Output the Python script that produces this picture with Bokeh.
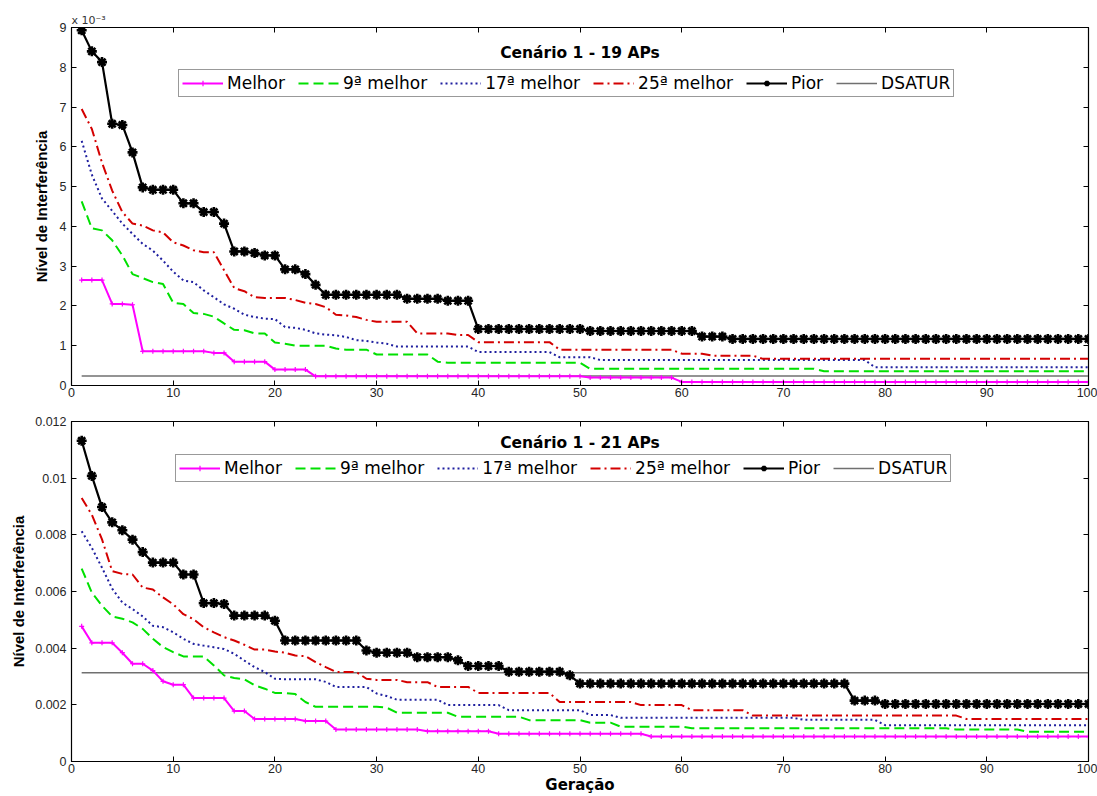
import numpy as np
from bokeh.plotting import figure
from bokeh.layouts import column
from bokeh.models import Range1d, FixedTicker, LinearAxis, Label, Legend, LegendItem, Title
from bokeh.embed import file_html
from bokeh.resources import INLINE

# ---------------- data ----------------
geracao = list(range(1, 101))
x_ticks = [0, 10, 20, 30, 40, 50, 60, 70, 80, 90, 100]
series_names = ["Melhor", "9ª melhor", "17ª melhor", "25ª melhor", "Pior", "DSATUR"]

# Cenário 1 - 19 APs  (values in units of 1e-3)
melhor_19 = [2.65, 2.65, 2.65, 2.05, 2.05, 2.03, 0.86, 0.86, 0.86, 0.86,
             0.86, 0.86, 0.86, 0.82, 0.82, 0.60, 0.60, 0.60, 0.60, 0.40,
             0.40, 0.40, 0.40, 0.23, 0.23, 0.23, 0.23, 0.23, 0.23, 0.23,
             0.23, 0.23, 0.23, 0.23, 0.23, 0.23, 0.23, 0.23, 0.23, 0.23,
             0.23, 0.23, 0.23, 0.23, 0.23, 0.23, 0.23, 0.23, 0.23, 0.23,
             0.20, 0.20, 0.20, 0.20, 0.20, 0.20, 0.20, 0.20, 0.20, 0.09,
             0.09, 0.09, 0.09, 0.09, 0.09, 0.09, 0.09, 0.09, 0.09, 0.09,
             0.09, 0.09, 0.09, 0.09, 0.09, 0.09, 0.09, 0.09, 0.09, 0.09,
             0.09, 0.09, 0.09, 0.09, 0.09, 0.09, 0.09, 0.09, 0.09, 0.09,
             0.09, 0.09, 0.09, 0.09, 0.09, 0.09, 0.09, 0.09, 0.09, 0.09]
melhor9_19 = [4.63, 3.95, 3.90, 3.65, 3.27, 2.80, 2.70, 2.60, 2.55, 2.08,
              2.05, 1.82, 1.80, 1.73, 1.56, 1.40, 1.39, 1.31, 1.31, 1.08,
              1.05, 1.00, 1.00, 1.00, 1.00, 0.93, 0.90, 0.90, 0.90, 0.78,
              0.78, 0.78, 0.78, 0.78, 0.78, 0.60, 0.57, 0.57, 0.57, 0.57,
              0.57, 0.57, 0.57, 0.57, 0.57, 0.57, 0.57, 0.57, 0.57, 0.57,
              0.42, 0.42, 0.42, 0.42, 0.42, 0.42, 0.42, 0.42, 0.42, 0.42,
              0.42, 0.42, 0.42, 0.42, 0.42, 0.42, 0.42, 0.42, 0.42, 0.42,
              0.42, 0.42, 0.42, 0.36, 0.36, 0.36, 0.36, 0.36, 0.36, 0.36,
              0.36, 0.36, 0.36, 0.36, 0.36, 0.36, 0.36, 0.36, 0.36, 0.36,
              0.36, 0.36, 0.36, 0.36, 0.36, 0.36, 0.36, 0.36, 0.36, 0.36]
melhor17_19 = [6.15, 5.30, 4.70, 4.39, 4.07, 3.81, 3.56, 3.39, 3.14, 2.86,
               2.64, 2.60, 2.39, 2.22, 2.04, 1.93, 1.78, 1.72, 1.68, 1.67,
               1.47, 1.45, 1.40, 1.31, 1.28, 1.26, 1.22, 1.14, 1.12, 1.08,
               1.05, 0.98, 0.98, 0.98, 0.98, 0.98, 0.98, 0.98, 0.98, 0.84,
               0.84, 0.84, 0.84, 0.84, 0.84, 0.84, 0.84, 0.71, 0.71, 0.71,
               0.71, 0.64, 0.64, 0.64, 0.64, 0.64, 0.64, 0.64, 0.64, 0.64,
               0.64, 0.64, 0.64, 0.64, 0.64, 0.64, 0.64, 0.64, 0.64, 0.64,
               0.64, 0.64, 0.64, 0.64, 0.64, 0.64, 0.64, 0.64, 0.46, 0.46,
               0.46, 0.46, 0.46, 0.46, 0.46, 0.46, 0.46, 0.46, 0.46, 0.46,
               0.46, 0.46, 0.46, 0.46, 0.46, 0.46, 0.46, 0.46, 0.46, 0.46]
melhor25_19 = [6.95, 6.45, 5.60, 4.90, 4.36, 4.07, 4.02, 3.90, 3.85, 3.60,
               3.52, 3.40, 3.35, 3.35, 2.90, 2.45, 2.37, 2.22, 2.20, 2.20,
               2.20, 2.15, 2.08, 2.05, 1.97, 1.78, 1.76, 1.72, 1.65, 1.60,
               1.60, 1.60, 1.60, 1.31, 1.31, 1.31, 1.31, 1.27, 1.27, 1.09,
               1.09, 1.09, 1.09, 1.09, 1.09, 1.09, 1.09, 0.90, 0.90, 0.90,
               0.90, 0.90, 0.90, 0.90, 0.90, 0.90, 0.90, 0.90, 0.90, 0.80,
               0.80, 0.80, 0.75, 0.75, 0.75, 0.75, 0.75, 0.67, 0.67, 0.67,
               0.67, 0.67, 0.67, 0.67, 0.67, 0.67, 0.67, 0.67, 0.67, 0.67,
               0.67, 0.67, 0.67, 0.67, 0.67, 0.67, 0.67, 0.67, 0.67, 0.67,
               0.67, 0.67, 0.67, 0.67, 0.67, 0.67, 0.67, 0.67, 0.67, 0.67]
pior_19 = [8.93, 8.40, 8.13, 6.58, 6.55, 5.86, 4.98, 4.92, 4.92, 4.92,
           4.58, 4.58, 4.36, 4.36, 4.07, 3.37, 3.37, 3.33, 3.27, 3.27,
           2.92, 2.92, 2.80, 2.53, 2.28, 2.28, 2.28, 2.28, 2.28, 2.28,
           2.28, 2.28, 2.18, 2.18, 2.18, 2.18, 2.13, 2.13, 2.13, 1.42,
           1.42, 1.42, 1.42, 1.42, 1.42, 1.42, 1.42, 1.42, 1.42, 1.42,
           1.37, 1.37, 1.37, 1.37, 1.37, 1.37, 1.37, 1.37, 1.37, 1.37,
           1.37, 1.23, 1.23, 1.23, 1.17, 1.17, 1.17, 1.17, 1.17, 1.17,
           1.17, 1.17, 1.17, 1.17, 1.17, 1.17, 1.17, 1.17, 1.17, 1.17,
           1.17, 1.17, 1.17, 1.17, 1.17, 1.17, 1.17, 1.17, 1.17, 1.17,
           1.17, 1.17, 1.17, 1.17, 1.17, 1.17, 1.17, 1.17, 1.17, 1.17]
dsatur_19 = 0.24
y_ticks_19 = [0, 1, 2, 3, 4, 5, 6, 7, 8, 9]

# Cenário 1 - 21 APs  (values in units of 1e-3, axis labelled in raw units)
melhor_21 = [4.77, 4.19, 4.19, 4.19, 3.84, 3.45, 3.45, 3.21, 2.83, 2.71,
             2.71, 2.24, 2.24, 2.24, 2.24, 1.78, 1.78, 1.50, 1.50, 1.50,
             1.50, 1.50, 1.43, 1.43, 1.43, 1.13, 1.13, 1.13, 1.13, 1.13,
             1.13, 1.13, 1.13, 1.13, 1.07, 1.07, 1.07, 1.07, 1.07, 1.07,
             1.07, 0.98, 0.98, 0.98, 0.98, 0.98, 0.98, 0.98, 0.98, 0.98,
             0.98, 0.98, 0.98, 0.98, 0.98, 0.98, 0.88, 0.88, 0.88, 0.88,
             0.88, 0.88, 0.88, 0.88, 0.88, 0.88, 0.88, 0.88, 0.88, 0.88,
             0.88, 0.88, 0.88, 0.88, 0.88, 0.88, 0.88, 0.88, 0.88, 0.88,
             0.88, 0.88, 0.88, 0.88, 0.88, 0.88, 0.88, 0.88, 0.88, 0.88,
             0.88, 0.88, 0.88, 0.88, 0.88, 0.88, 0.88, 0.88, 0.88, 0.88]
melhor9_21 = [6.81, 5.96, 5.50, 5.12, 5.04, 4.91, 4.68, 4.33, 4.04, 3.86,
              3.71, 3.71, 3.71, 3.39, 3.04, 2.95, 2.90, 2.69, 2.57, 2.42,
              2.42, 2.38, 2.10, 1.93, 1.93, 1.93, 1.93, 1.93, 1.93, 1.93,
              1.90, 1.72, 1.72, 1.72, 1.72, 1.72, 1.72, 1.58, 1.58, 1.58,
              1.58, 1.58, 1.58, 1.58, 1.46, 1.46, 1.46, 1.46, 1.46, 1.46,
              1.37, 1.37, 1.37, 1.23, 1.23, 1.23, 1.23, 1.23, 1.23, 1.23,
              1.17, 1.17, 1.17, 1.17, 1.17, 1.17, 1.17, 1.17, 1.17, 1.17,
              1.17, 1.17, 1.17, 1.17, 1.17, 1.17, 1.17, 1.17, 1.17, 1.17,
              1.17, 1.17, 1.17, 1.17, 1.17, 1.17, 1.13, 1.13, 1.13, 1.13,
              1.13, 1.13, 1.13, 1.05, 1.05, 1.05, 1.05, 1.05, 1.05, 1.05]
melhor17_21 = [8.13, 7.54, 6.84, 6.10, 5.61, 5.38, 5.12, 4.79, 4.74, 4.56,
               4.33, 4.15, 4.09, 4.03, 3.97, 3.80, 3.56, 3.33, 3.16, 2.92,
               2.90, 2.90, 2.90, 2.90, 2.81, 2.63, 2.63, 2.63, 2.63, 2.40,
               2.31, 2.18, 2.18, 2.18, 2.18, 2.18, 1.99, 1.99, 1.99, 1.99,
               1.99, 1.99, 1.81, 1.81, 1.81, 1.81, 1.81, 1.81, 1.81, 1.81,
               1.64, 1.64, 1.64, 1.54, 1.54, 1.54, 1.54, 1.54, 1.54, 1.54,
               1.54, 1.54, 1.54, 1.54, 1.54, 1.54, 1.54, 1.54, 1.54, 1.54,
               1.54, 1.47, 1.47, 1.47, 1.47, 1.47, 1.47, 1.47, 1.47, 1.28,
               1.28, 1.28, 1.28, 1.28, 1.28, 1.28, 1.28, 1.28, 1.28, 1.28,
               1.28, 1.28, 1.28, 1.28, 1.28, 1.28, 1.28, 1.28, 1.28, 1.28]
melhor25_21 = [9.30, 8.71, 7.84, 6.72, 6.62, 6.60, 6.14, 6.07, 5.79, 5.55,
               5.20, 5.02, 4.74, 4.56, 4.39, 4.27, 4.12, 3.95, 3.95, 3.88,
               3.84, 3.74, 3.72, 3.51, 3.33, 3.16, 3.16, 3.16, 2.92, 2.88,
               2.88, 2.88, 2.80, 2.80, 2.80, 2.63, 2.63, 2.63, 2.63, 2.42,
               2.42, 2.42, 2.42, 2.42, 2.42, 2.42, 2.42, 2.10, 2.10, 2.10,
               2.10, 2.10, 2.10, 2.10, 2.10, 1.99, 1.99, 1.99, 1.99, 1.99,
               1.81, 1.81, 1.81, 1.81, 1.81, 1.81, 1.62, 1.62, 1.62, 1.62,
               1.62, 1.62, 1.62, 1.62, 1.62, 1.62, 1.62, 1.62, 1.62, 1.62,
               1.62, 1.62, 1.62, 1.62, 1.62, 1.62, 1.62, 1.50, 1.50, 1.50,
               1.50, 1.50, 1.50, 1.50, 1.50, 1.50, 1.50, 1.50, 1.50, 1.50]
pior_21 = [11.32, 10.08, 8.98, 8.44, 8.16, 7.83, 7.39, 7.02, 7.02, 7.02,
           6.60, 6.60, 5.59, 5.59, 5.56, 5.15, 5.15, 5.15, 5.15, 4.97,
           4.27, 4.27, 4.27, 4.27, 4.27, 4.27, 4.27, 4.27, 3.92, 3.84,
           3.84, 3.84, 3.84, 3.68, 3.68, 3.68, 3.68, 3.57, 3.37, 3.37,
           3.37, 3.37, 3.17, 3.17, 3.17, 3.17, 3.17, 3.17, 3.04, 2.75,
           2.75, 2.75, 2.75, 2.75, 2.75, 2.75, 2.75, 2.75, 2.75, 2.75,
           2.75, 2.75, 2.75, 2.75, 2.75, 2.75, 2.75, 2.75, 2.75, 2.75,
           2.75, 2.75, 2.75, 2.75, 2.75, 2.75, 2.15, 2.15, 2.15, 2.03,
           2.03, 2.03, 2.03, 2.03, 2.03, 2.03, 2.03, 2.03, 2.03, 2.03,
           2.03, 2.03, 2.03, 2.03, 2.03, 2.03, 2.03, 2.03, 2.03, 2.03]
dsatur_21 = 3.13
y_ticks_21 = [0, 2, 4, 6, 8, 10, 12]
y_tick_labels_21 = ["0", "0.002", "0.004", "0.006", "0.008", "0.01", "0.012"]

# ---------------- styling ----------------
TICK_FONT = "Liberation Sans"
WIDE_FONT = "DejaVu Sans"
C_MAG = "#FF00FF"
C_GRN = "#00E000"
C_BLU = "#1F1F9F"
C_RED = "#D40000"
C_BLK = "#000000"
C_GRY = "#707070"


def style_axis(ax, ticks, overrides=None):
    ax.ticker = FixedTicker(ticks=ticks)
    ax.major_tick_in = 5
    ax.major_tick_out = 0
    ax.minor_tick_line_color = None
    ax.axis_line_color = "black"
    ax.axis_line_width = 1
    ax.major_tick_line_color = "black"
    ax.major_label_text_font = TICK_FONT
    ax.major_label_text_font_size = "12.5px"
    ax.major_label_text_color = "#262626"
    if overrides:
        ax.major_label_overrides = overrides


def make_panel(height, border, ymax, yticks, yoverrides, ylabel_standoff,
               data, dsatur, title, title_y, legend_loc, xlabel=None, sci=False):
    p = figure(width=1097, height=height, output_backend="svg", toolbar_location=None,
               x_range=Range1d(0, 100), y_range=Range1d(0, ymax),
               min_border_left=border[0], min_border_right=border[1],
               min_border_top=border[2], min_border_bottom=border[3])
    p.xgrid.visible = False
    p.ygrid.visible = False
    p.outline_line_color = "black"
    p.outline_line_width = 1.2
    p.background_fill_color = "white"
    p.border_fill_color = "white"

    xa = p.below[0]
    ya = p.left[0]
    style_axis(xa, x_ticks)
    xa.major_label_standoff = 2
    style_axis(ya, yticks, yoverrides)
    ya.major_label_standoff = 5
    ya.axis_label = "Nível de Interferência"
    ya.axis_label_text_font = TICK_FONT
    ya.axis_label_text_font_style = "bold"
    ya.axis_label_text_font_size = "15px"
    ya.axis_label_text_color = "black"
    ya.axis_label_standoff = ylabel_standoff
    if xlabel:
        xa.axis_label = xlabel
        xa.axis_label_text_font = WIDE_FONT
        xa.axis_label_text_font_style = "bold"
        xa.axis_label_text_font_size = "15px"
        xa.axis_label_text_color = "black"
        xa.axis_label_standoff = 0

    # box ticks on top and right
    top_ax = LinearAxis()
    style_axis(top_ax, x_ticks, {t: "" for t in x_ticks})
    top_ax.major_label_text_font_size = "0px"
    top_ax.major_label_standoff = 0
    p.add_layout(top_ax, "above")
    right_ax = LinearAxis()
    style_axis(right_ax, yticks, {t: "" for t in yticks})
    right_ax.major_label_text_font_size = "0px"
    right_ax.major_label_standoff = 0
    p.add_layout(right_ax, "right")

    if sci:
        p.add_layout(Title(text="x 10⁻³", align="left", text_font=WIDE_FONT,
                           text_font_size="11px", text_font_style="normal",
                           text_color="#333333", standoff=2, offset=0), "above")

    melhor, m9, m17, m25, pior = data
    r_ds = p.line([geracao[0], geracao[-1]], [dsatur, dsatur], line_color=C_GRY, line_width=1.6)
    r_m = p.line(geracao, melhor, line_color=C_MAG, line_width=2)
    r_ms = p.scatter(geracao, melhor, marker="cross", size=5, line_color=C_MAG, line_width=1.2)
    r_9 = p.line(geracao, m9, line_color=C_GRN, line_width=2, line_dash="10 5")
    r_17 = p.line(geracao, m17, line_color=C_BLU, line_width=2, line_dash="2 3")
    r_25 = p.line(geracao, m25, line_color=C_RED, line_width=2, line_dash="10 4 2 4")
    r_p = p.line(geracao, pior, line_color=C_BLK, line_width=2.2)
    r_ps = p.scatter(geracao, pior, marker="asterisk", size=10, line_color=C_BLK, line_width=2.6)

    items = [LegendItem(label=series_names[0], renderers=[r_m, r_ms]),
             LegendItem(label=series_names[1], renderers=[r_9]),
             LegendItem(label=series_names[2], renderers=[r_17]),
             LegendItem(label=series_names[3], renderers=[r_25]),
             LegendItem(label=series_names[4], renderers=[r_p, r_ps]),
             LegendItem(label=series_names[5], renderers=[r_ds])]
    leg = Legend(items=items, orientation="horizontal", location=legend_loc, margin=0,
                 padding=3, spacing=13, label_standoff=4, glyph_width=41, glyph_height=14,
                 label_height=20, label_text_font=WIDE_FONT, label_text_font_size="17px",
                 label_text_color="black", label_text_baseline="middle",
                 border_line_color="#333333", border_line_width=1.2,
                 background_fill_color="white", background_fill_alpha=1)
    p.add_layout(leg)

    p.add_layout(Label(x=50, y=title_y, text=title, text_align="center",
                       text_baseline="middle", text_font=WIDE_FONT, text_font_style="bold",
                       text_font_size="15.5px", text_color="black"))
    return p


p1 = make_panel(405, (67, 9, 27, 20), 9, y_ticks_19, None, 7,
                (melhor_19, melhor9_19, melhor17_19, melhor25_19, pior_19), dsatur_19,
                "Cenário 1 - 19 APs", 8.37, (107, 288), sci=True)
p2 = make_panel(391, (71, 8, 16, 33), 12, y_ticks_21,
                dict(zip(y_ticks_21, y_tick_labels_21)), 5,
                (melhor_21, melhor9_21, melhor17_21, melhor25_21, pior_21), dsatur_21,
                "Cenário 1 - 21 APs", 11.23, (104, 279), xlabel="Geração")

layout = column(p1, p2, spacing=0)
open("out.html", "w").write(file_html(layout, INLINE))
